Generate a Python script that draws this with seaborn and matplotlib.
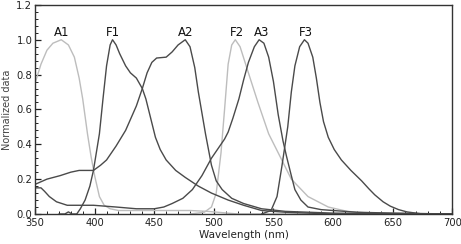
import numpy as np
import pandas as pd
import matplotlib
matplotlib.use("Agg")
import matplotlib.pyplot as plt
from matplotlib.ticker import MultipleLocator
import seaborn as sns

sns.set_theme(style="white")
plt.rcParams['font.family'] = ['DejaVu Sans']

a1_x = [350, 355, 360, 365, 372, 378, 383, 387, 390, 394, 397, 400, 404, 408, 413, 420, 450, 480, 495, 520, 700]
a1_y = [0.75, 0.86, 0.94, 0.98, 1.0, 0.97, 0.9, 0.78, 0.66, 0.46, 0.33, 0.22, 0.1, 0.05, 0.03, 0.02, 0.02, 0.02, 0.015, 0.0, 0.0]

f2_x = [480, 492, 498, 502, 506, 509, 512, 515, 518, 522, 529, 537, 546, 557, 565, 579, 596, 612, 630, 700]
f2_y = [0.0, 0.01, 0.04, 0.12, 0.35, 0.6, 0.86, 0.97, 1.0, 0.96, 0.81, 0.64, 0.46, 0.31, 0.2, 0.1, 0.04, 0.015, 0.005, 0.0]

f1_x = [370, 375, 378, 381, 385, 388, 392, 396, 399, 404, 407, 410, 413, 415, 418, 421, 426, 430, 435, 440, 443,
        447, 451, 455, 460, 468, 476, 487, 498, 512, 525, 540, 560, 600, 700]
f1_y = [0.0, 0.0, 0.012, 0.0, 0.0, 0.03, 0.08, 0.16, 0.25, 0.46, 0.66, 0.85, 0.97, 1.0, 0.97, 0.92, 0.85, 0.81, 0.78, 0.72, 0.66,
        0.55, 0.44, 0.37, 0.31, 0.25, 0.21, 0.16, 0.12, 0.08, 0.05, 0.02, 0.01, 0.0, 0.0]

a2_x = [350, 360, 371, 380, 387, 399, 405, 410, 418, 426, 435, 440, 444, 448, 452, 460, 465, 470, 476, 480,
        484, 487, 493, 498, 502, 507, 515, 525, 540, 560, 600, 700]
a2_y = [0.17, 0.2, 0.22, 0.24, 0.25, 0.25, 0.28, 0.31, 0.39, 0.48, 0.62, 0.72, 0.81, 0.87, 0.895, 0.9, 0.93, 0.97, 1.0, 0.96,
        0.84, 0.7, 0.46, 0.28, 0.19, 0.14, 0.09, 0.06, 0.03, 0.015, 0.005, 0.0]

a3_x = [350, 355, 358, 362, 368, 377, 399, 418, 435, 450, 458, 465, 474, 482, 490, 498, 505, 509, 512, 516, 521, 525,
        529, 534, 538, 542, 546, 550, 554, 558, 561, 565, 568, 573, 579, 590, 600, 620, 650, 700]
a3_y = [0.15, 0.15, 0.13, 0.1, 0.07, 0.05, 0.05, 0.04, 0.03, 0.03, 0.04, 0.06, 0.09, 0.14, 0.22, 0.32, 0.39, 0.43, 0.47, 0.55, 0.66, 0.77,
        0.87, 0.96, 1.0, 0.98, 0.9, 0.76, 0.57, 0.42, 0.33, 0.22, 0.14, 0.08, 0.04, 0.025, 0.02, 0.01, 0.005, 0.0]

f3_x = [540, 548, 553, 557, 562, 565, 568, 572, 576, 579, 583, 586, 589, 592, 596, 601, 607, 615, 624, 630, 635,
        642, 648, 655, 662, 675, 700]
f3_y = [0.0, 0.02, 0.1, 0.27, 0.5, 0.7, 0.85, 0.96, 1.0, 0.98, 0.9, 0.78, 0.64, 0.53, 0.44, 0.37, 0.31, 0.25, 0.19, 0.145, 0.11,
        0.07, 0.045, 0.025, 0.012, 0.0, 0.0]

labels = ["A1", "F1", "A2", "F2", "A3", "F3"]
label_x = [372, 415, 476, 519, 540, 577]
label_y = [1.04, 1.04, 1.04, 1.04, 1.04, 1.04]

light = "#bdbdbd"
dark = "#4a4a4a"

fig = plt.figure(figsize=(4.61, 2.44), dpi=100)
ax = fig.add_axes([0.076, 0.123, 0.905, 0.857])

series = [(a1_x, a1_y, light), (f2_x, f2_y, light), (f1_x, f1_y, dark),
          (a2_x, a2_y, dark), (a3_x, a3_y, dark), (f3_x, f3_y, dark)]
for xs, ys, c in series:
    df = pd.DataFrame({"x": xs, "y": ys})
    sns.lineplot(data=df, x="x", y="y", ax=ax, color=c, linewidth=1.0, sort=False)

for t, x, y in zip(labels, label_x, label_y):
    ax.text(x, y, t, ha="center", va="center", fontsize=8.5, color="#111111")

ax.set_xlim(350, 700)
ax.set_ylim(0, 1.2)
ax.xaxis.set_major_locator(MultipleLocator(50))
ax.xaxis.set_minor_locator(MultipleLocator(10))
ax.yaxis.set_major_locator(MultipleLocator(0.2))
ax.yaxis.set_minor_locator(MultipleLocator(0.04))
ax.yaxis.set_major_formatter(matplotlib.ticker.FormatStrFormatter("%.1f"))
ax.tick_params(which="both", direction="in", bottom=True, left=True, top=False, right=False,
               labelsize=7.2, colors="#222222")
ax.tick_params(axis="x", pad=3)
ax.tick_params(axis="y", pad=2)
ax.tick_params(which="major", length=4, width=0.9)
ax.tick_params(which="minor", length=2, width=0.7)
for s in ax.spines.values():
    s.set_color("#333333")
    s.set_linewidth(1.0)
ax.set_xlabel("Wavelength (nm)", fontsize=7.5, color="#222222", labelpad=1)
ax.set_ylabel("Normalized data", fontsize=7, color="#444444", labelpad=3)

fig.savefig("out.png", dpi=100)
